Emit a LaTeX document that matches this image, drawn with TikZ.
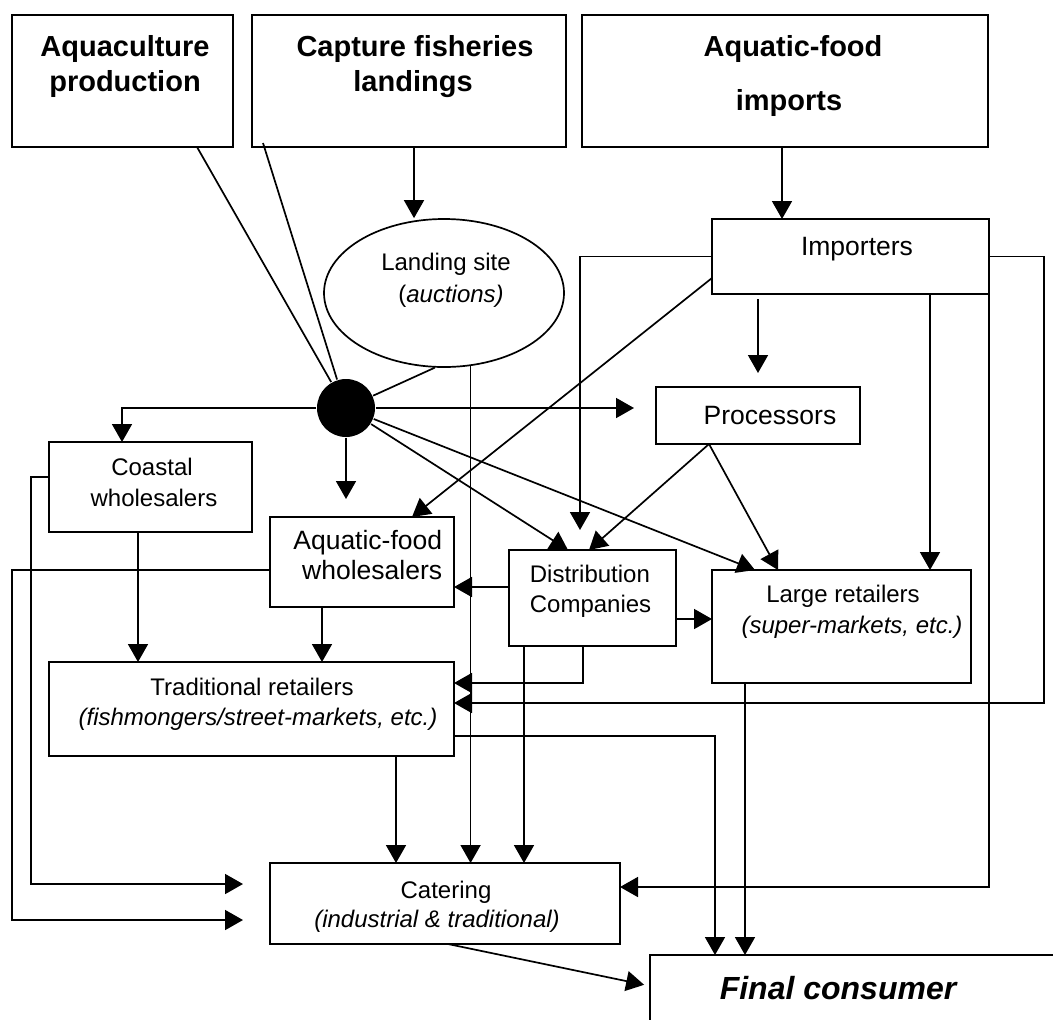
\documentclass[tikz,border=0pt]{standalone}
\usepackage{fontspec}
\setmainfont{Liberation Sans}
\usetikzlibrary{arrows.meta,shapes.geometric}

\newcommand\hdfont{\fontsize{14.5}{17}\selectfont\bfseries}
\newcommand\mdfont{\fontsize{13.25}{15}\selectfont}
\newcommand\smfont{\fontsize{12}{14}\selectfont}
\newcommand\fcfont{\fontsize{16}{19}\selectfont\bfseries\itshape}

\tikzset{
  box/.style={draw, rectangle, inner sep=0pt, outer sep=0pt},
  arr/.style={-{Triangle[length=9pt,width=10pt]}},
  txt/.style={anchor=base, inner sep=0pt},
}

\begin{document}
\begin{tikzpicture}[x=0.5pt,y=-0.5pt,line width=0.85pt]
  \useasboundingbox (0,0) rectangle (1053,1019);
  %%% sources
  \node[box, minimum width=110.5pt, minimum height=66pt] (aqua) at (122.5,81) {};
  \node[box, minimum width=157pt, minimum height=66pt] (capt) at (409,81) {};
  \node[box, minimum width=203pt, minimum height=66pt] (imps) at (785,81) {};
  %%% middle
  \node[draw, ellipse, inner sep=0pt, minimum width=120pt, minimum height=74pt] (land) at (444,293) {};
  \node[circle, fill, inner sep=0pt, minimum size=29pt] (hub) at (346,408) {};
  \node[box, minimum width=138.5pt, minimum height=37.5pt] (impr) at (850.5,256.5) {};
  \node[box, minimum width=102pt, minimum height=28.5pt] (proc) at (758,415.5) {};
  \node[box, minimum width=101.5pt, minimum height=45pt] (coast) at (150.5,487) {};
  \node[box, minimum width=92pt, minimum height=45pt] (aqwh) at (362,562) {};
  \node[box, minimum width=83.5pt, minimum height=48pt] (dist) at (592.5,598) {};
  \node[box, minimum width=129.5pt, minimum height=56.5pt] (large) at (841.5,626.5) {};
  \node[box, minimum width=202.5pt, minimum height=47pt] (trad) at (251.5,709) {};
  \node[box, minimum width=175pt, minimum height=40.5pt] (cater) at (445,903.5) {};
  \node[box, minimum width=205pt, minimum height=34.5pt] (final) at (855,989.5) {};
  \coordinate (captfoot) at (263,143);
  %%% edges into the hub
  \draw (aqua.south -| 197,0) -- (hub);
  \draw (captfoot) -- (hub);
  \draw (land.-97) -- (hub);
  \draw[arr] (capt.south -| 414,0) -- (land.north -| 414,0);
  \draw[arr] (imps.south -| 782,0) -- (impr.north -| 782,0);
  %%% edges out of the hub
  \draw[arr] (hub) -| (coast.north -| 122,0);
  \draw[arr, shorten >=11pt] (hub) -- (proc.west |- hub);
  \draw[arr, shorten >=9pt] (hub) -- (hub |- aqwh.north);
  \draw[arr] (hub) -- (dist.north -| 568,0);
  \draw[arr] (hub) -- (large.north -| 755,0);
  %%% importers
  \draw[arr] (impr.west |- 0,278) -- (aqwh.north -| 412,0);
  \draw[arr, shorten >=10pt] (impr.west) -| (dist.north -| 580,0);
  \draw[arr, shorten <=2.5pt, shorten >=7pt] (proc.north |- impr.south) -- (proc.north);
  \draw[arr] (impr.south -| 930,0) -- (large.north -| 930,0);
  \draw[arr] (impr.south east) |- (cater.east |- 0,887);
  \draw[arr] (impr.east) -| (1044,703) -- (trad.east |- 0,703);
  %%% processors
  \draw[arr] (proc.south -| 709,0) -- (dist.north -| 589,0);
  \draw[arr] (proc.south -| 709,0) -- (large.north -| 778,0);
  %%% distribution companies
  \draw[arr] (dist.east |- 0,619) -- (large.west |- 0,619);
  \draw[arr] (dist.west |- 0,587) -- (aqwh.east |- 0,587);
  \draw[arr] (dist.south -| 583,0) |- (trad.east |- 0,683);
  \draw[arr] (dist.south -| 524,0) -- (cater.north -| 524,0);
  %%% landing site
  \draw[arr] (land.-70) -- (cater.north -| land.-70);
  %%% wholesalers and retailers
  \draw[arr] (coast.south -| 138,0) -- (trad.north -| 138,0);
  \draw[arr] (aqwh.south -| 322,0) -- (trad.north -| 322,0);
  \draw[arr, shorten >=13.5pt] (coast.west |- 0,477) -| (31,884) -- (cater.west |- 0,884);
  \draw[arr, shorten >=13.5pt] (aqwh.west |- 0,570) -| (12,920) -- (cater.west |- 0,920);
  \draw[arr] (trad.south -| 396,0) -- (cater.north -| 396,0);
  \draw[arr] (trad.east |- 0,736) -| (final.north -| 715,0);
  \draw[arr] (large.south -| 745,0) -- (final.north -| 745,0);
  \draw[arr, shorten >=3pt] (cater.south -| 448,0) -- (final.west |- 0,986);
  %%% text
  \node[txt, font=\hdfont] (aqua1) at (125,56) {Aquaculture};
  \node[txt, font=\hdfont] (aqua2) at (125,91) {production};
  \node[txt, font=\hdfont] (capt1) at (415,56) {Capture fisheries};
  \node[txt, font=\hdfont] (capt2) at (413,91) {landings};
  \node[txt, font=\hdfont] (imps1) at (793,56) {Aquatic-food};
  \node[txt, font=\hdfont] (imps2) at (789,110) {imports};
  \node[txt, font=\smfont] (land1) at (446,270) {Landing site};
  \node[txt, font=\smfont] (land2) at (451,302) {(\textit{auctions)}};
  \node[txt, font=\mdfont] (impr1) at (857,255) {Importers};
  \node[txt, font=\mdfont] (proc1) at (770,424) {Processors};
  \node[txt, font=\smfont] (coast1) at (152,475) {Coastal};
  \node[txt, font=\smfont] (coast2) at (154,506) {wholesalers};
  \node[txt, font=\mdfont, anchor=base east] (aqwh1) at (443,549) {Aquatic-food};
  \node[txt, font=\mdfont, anchor=base east] (aqwh2) at (443,579) {wholesalers};
  \node[txt, font=\smfont, anchor=base west] (dist1) at (529,582) {Distribution};
  \node[txt, font=\smfont, anchor=base west] (dist2) at (529,612) {Companies};
  \node[txt, font=\smfont] (large1) at (843,602) {Large retailers};
  \node[txt, font=\smfont] (large2) at (852,633) {\textit{(super-markets, etc.)}};
  \node[txt, font=\smfont] (trad1) at (252,695) {Traditional retailers};
  \node[txt, font=\smfont] (trad2) at (258,725) {\textit{(fishmongers/street-markets, etc.)}};
  \node[txt, font=\smfont] (cater1) at (446,898) {Catering};
  \node[txt, font=\smfont] (cater2) at (437,927) {\textit{(industrial \& traditional)}};
  \node[txt, font=\fcfont] (final1) at (838,999) {Final consumer};
\end{tikzpicture}
\end{document}
